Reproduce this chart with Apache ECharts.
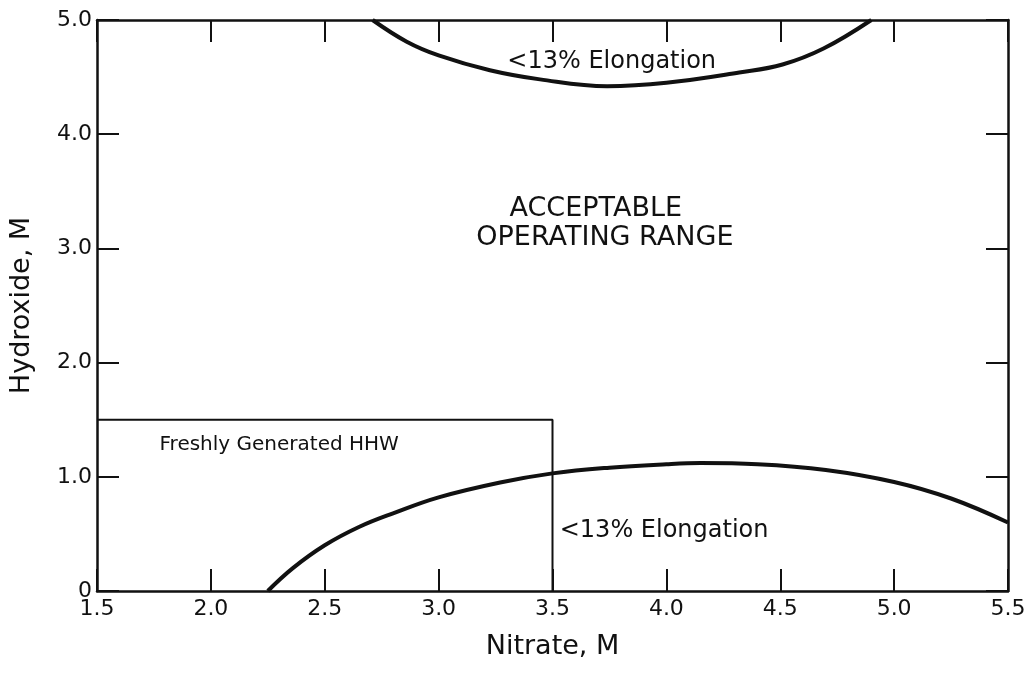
<!DOCTYPE html>
<html>
<head>
<meta charset="utf-8">
<script src="https://cdn.jsdelivr.net/npm/echarts@6/dist/echarts.min.js"></script>
<style>
html,body{margin:0;padding:0;background:#fff;}
#chart{width:1029px;height:675px;}
</style>
</head>
<body>
<div id="chart"></div>
<script>
// Axis ranges and tick labels
var xTicks = [1.5, 2.0, 2.5, 3.0, 3.5, 4.0, 4.5, 5.0, 5.5];
var yTicks = [0, 1, 2, 3, 4, 5];
var xTitle = 'Nitrate, M';
var yTitle = 'Hydroxide, M';

// Upper boundary (<13% Elongation, high hydroxide)
var upperX = [2.71, 2.86, 3.0, 3.225, 3.445, 3.74, 4.0, 4.32, 4.51, 4.69, 4.90];
var upperY = [5.0, 4.81, 4.69, 4.56, 4.48, 4.42, 4.45, 4.54, 4.61, 4.75, 5.0];

// Lower boundary (<13% Elongation, low hydroxide)
var lowerX = [2.25, 2.36, 2.5, 2.65, 2.8, 3.0, 3.27, 3.5, 3.75, 4.0, 4.15, 4.4, 4.7, 5.0, 5.25, 5.5];
var lowerY = [0, 0.20, 0.40, 0.56, 0.68, 0.82, 0.95, 1.03, 1.08, 1.11, 1.12, 1.11, 1.06, 0.955, 0.81, 0.60];

// Freshly generated HHW box outline
var boxX = [1.5, 3.5, 3.5];
var boxY = [1.5, 1.5, 0];

// Annotations (data coordinates)
var noteText = ['<13% Elongation', 'ACCEPTABLE', 'OPERATING RANGE', 'Freshly Generated HHW', '<13% Elongation'];
var noteX = [3.76, 3.69, 3.73, 2.30, 3.99];
var noteY = [4.63, 3.345, 3.09, 1.28, 0.53];
var noteSize = [24, 27, 27, 20, 24];

function zip(a, b) { return a.map(function (v, i) { return [v, b[i]]; }); }

var FONT = '"DejaVu Sans", sans-serif';
var INK = '#111';

var chart = echarts.init(document.getElementById('chart'), null, {renderer: 'canvas'});

function xAx(pos, showLabel) {
  return {
    type: 'value', position: pos, min: xTicks[0], max: xTicks[xTicks.length - 1], interval: 0.5,
    name: pos === 'bottom' ? xTitle : '', nameLocation: 'middle', nameGap: 42,
    nameTextStyle: {fontFamily: FONT, fontSize: 27, color: INK},
    axisLine: {show: true, onZero: false, lineStyle: {color: INK, width: 2.5}},
    axisTick: {show: true, inside: true, length: 22, lineStyle: {color: INK, width: 2}},
    axisLabel: {show: showLabel, margin: 7, fontFamily: FONT, fontSize: 22, color: INK,
      formatter: function (v) { return v.toFixed(1); }},
    splitLine: {show: false}
  };
}
function yAx(pos, showLabel) {
  return {
    type: 'value', position: pos, min: yTicks[0], max: yTicks[yTicks.length - 1], interval: 1,
    name: pos === 'left' ? yTitle : '', nameLocation: 'middle', nameGap: 62, nameRotate: 90,
    nameTextStyle: {fontFamily: FONT, fontSize: 27, color: INK},
    axisLine: {show: true, onZero: false, lineStyle: {color: INK, width: 2.5}},
    axisTick: {show: true, inside: true, length: 22, lineStyle: {color: INK, width: 2}},
    axisLabel: {show: showLabel, margin: 5, fontFamily: FONT, fontSize: 22, color: INK,
      formatter: function (v) { return v === 0 ? '0' : v.toFixed(1); }},
    splitLine: {show: false}
  };
}

var notes = noteText.map(function (t, i) {
  return {value: [noteX[i], noteY[i]], label: {show: true, position: 'inside', formatter: t,
    fontFamily: FONT, fontSize: noteSize[i], color: INK, opacity: 1}};
});

chart.setOption({
  backgroundColor: '#fff',
  animation: false,
  grid: {left: 97, right: 21, top: 20, bottom: 84, containLabel: false},
  xAxis: [xAx('bottom', true), xAx('top', false)],
  yAxis: [yAx('left', true), yAx('right', false)],
  series: [
    {type: 'line', data: zip(upperX, upperY), smooth: 0.4, showSymbol: false, symbol: 'none',
      lineStyle: {color: INK, width: 4}, clip: true},
    {type: 'line', data: zip(lowerX, lowerY), smooth: 0.4, showSymbol: false, symbol: 'none',
      lineStyle: {color: INK, width: 4}, clip: true},
    {type: 'line', data: zip(boxX, boxY), smooth: false, showSymbol: false, symbol: 'none',
      lineStyle: {color: INK, width: 2}},
    {type: 'scatter', data: notes, symbolSize: 1, itemStyle: {color: '#fff', opacity: 1}, silent: true}
  ]
});
</script>
</body>
</html>
